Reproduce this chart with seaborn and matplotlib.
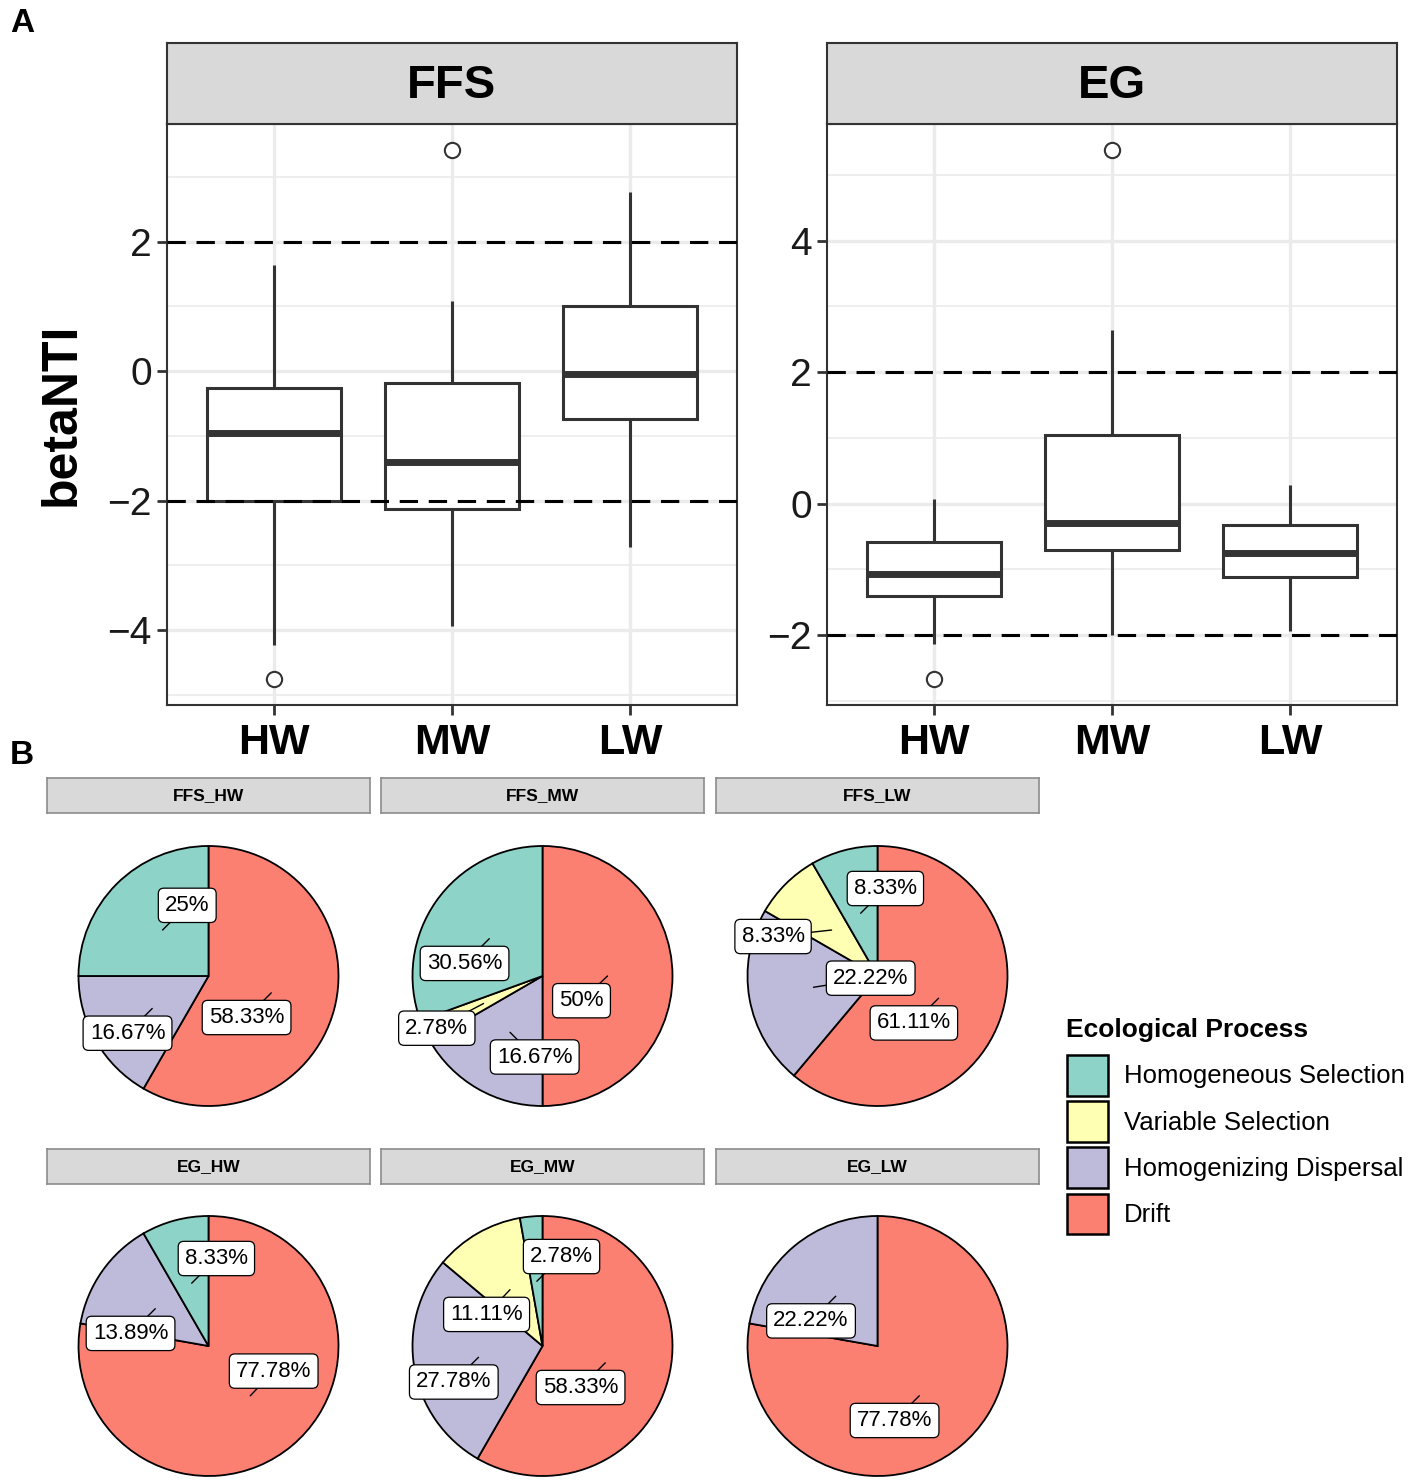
import numpy as np
import pandas as pd
import matplotlib
matplotlib.use("Agg")
import matplotlib.pyplot as plt
from matplotlib.patches import Patch
from matplotlib.ticker import MultipleLocator
import seaborn as sns

# ---- panel A: betaNTI values
# (outlier / whisker end, lower hinge, median, upper hinge, whisker end / outlier)
sites = ["HW", "MW", "LW"]
soils = ["FFS", "EG"]

ffs_hw = [-4.75, -4.23, -2.00, -2.00, -0.96, -0.26, -0.26, 1.64, 1.64]
ffs_mw = [-3.94, -3.94, -2.13, -2.13, -1.41, -0.18, -0.18, 1.09, 3.41]
ffs_lw = [-2.72, -2.72, -0.74, -0.74, -0.05, 1.00, 1.00, 2.76, 2.76]
eg_hw = [-2.66, -2.14, -1.40, -1.40, -1.07, -0.59, -0.59, 0.07, 0.07]
eg_mw = [-2.00, -2.00, -0.71, -0.71, -0.30, 1.05, 1.05, 2.64, 5.37]
eg_lw = [-1.94, -1.94, -1.11, -1.11, -0.75, -0.33, -0.33, 0.28, 0.28]

# ---- panel B: share of ecological processes (%)
processes = ["Homogeneous Selection", "Variable Selection",
             "Homogenizing Dispersal", "Drift"]
pie_groups = ["FFS_HW", "FFS_MW", "FFS_LW", "EG_HW", "EG_MW", "EG_LW"]
homogeneous_sel = [25.00, 30.56, 8.33, 8.33, 2.78, 0.00]
variable_sel = [0.00, 2.78, 8.33, 0.00, 11.11, 0.00]
homogenizing_disp = [16.67, 16.67, 22.22, 13.89, 27.78, 22.22]
drift = [58.33, 50.00, 61.11, 77.78, 58.33, 77.78]

rows = []
for soil, groups in zip(soils, [[ffs_hw, ffs_mw, ffs_lw], [eg_hw, eg_mw, eg_lw]]):
    for site, vals in zip(sites, groups):
        for v in vals:
            rows.append({"soil": soil, "site": site, "betaNTI": v})
df_box = pd.DataFrame(rows)

df_pie = pd.DataFrame({"group": pie_groups,
                       "Homogeneous Selection": homogeneous_sel,
                       "Variable Selection": variable_sel,
                       "Homogenizing Dispersal": homogenizing_disp,
                       "Drift": drift}).set_index("group")

# label nudges (repel-like offsets, in pie radius units)
label_nudge = {
    "FFS_HW": {"Drift": (-0.19, -0.19), "Homogenizing Dispersal": (-0.19, -0.19),
               "Homogeneous Selection": (0.19, 0.19)},
    "FFS_MW": {"Drift": (-0.2, -0.19), "Homogenizing Dispersal": (0.19, -0.19),
               "Variable Selection": (-0.36, -0.19), "Homogeneous Selection": (-0.19, -0.19)},
    "FFS_LW": {"Drift": (-0.19, -0.19), "Homogenizing Dispersal": (0.44, 0.07),
               "Variable Selection": (-0.45, -0.05), "Homogeneous Selection": (0.19, 0.19)},
    "EG_HW": {"Drift": (0.18, 0.19), "Homogenizing Dispersal": (-0.19, -0.19),
              "Homogeneous Selection": (0.19, 0.19)},
    "EG_MW": {"Drift": (-0.19, -0.19), "Homogenizing Dispersal": (-0.19, -0.19),
              "Variable Selection": (-0.18, -0.19), "Homogeneous Selection": (0.19, 0.19)},
    "EG_LW": {"Drift": (-0.19, -0.19), "Homogenizing Dispersal": (-0.19, -0.19)},
}

sns.set_theme(style="white")
plt.rcParams['font.family'] = ['Liberation Sans', 'DejaVu Sans']
plt.rcParams['text.color'] = 'black'

W, H = 1417, 1483
fig = plt.figure(figsize=(W / 100, H / 100), dpi=100)


def px_rect(x0, y0, x1, y1):
    return [x0 / W, 1 - y1 / H, (x1 - x0) / W, (y1 - y0) / H]


dark = "#333333"
palette = sns.color_palette("Set3", 4)
proc_colors = dict(zip(processes, palette))

# ---------------- panel A ----------------
panel_x = {"FFS": (167, 737), "EG": (827, 1397)}
for soil in soils:
    x0, x1 = panel_x[soil]
    ax = fig.add_axes(px_rect(x0, 124, x1, 705))
    sub = df_box[df_box["soil"] == soil]
    sns.boxplot(data=sub, x="site", y="betaNTI", order=sites, width=0.75,
                color="white", linecolor=dark, linewidth=2.2, fliersize=11,
                flierprops=dict(marker="o", markerfacecolor="white",
                                markeredgecolor=dark, markeredgewidth=1.5),
                medianprops=dict(linewidth=5, color=dark),
                showcaps=False, ax=ax)
    for y in (-2, 2):
        ax.axhline(y, color="black", lw=2.2, ls=(0, (6, 3.5)), zorder=6)
    lo, hi = sub["betaNTI"].min(), sub["betaNTI"].max()
    pad = 0.05 * (hi - lo)
    ax.set_ylim(lo - pad, hi + pad)
    ax.set_xlim(-0.6, 2.6)
    ax.yaxis.set_major_locator(MultipleLocator(2))
    ax.yaxis.set_minor_locator(MultipleLocator(1))
    ax.set_axisbelow(True)
    ax.grid(True, which="major", color="#EBEBEB", lw=2.4)
    ax.grid(True, which="minor", axis="y", color="#EBEBEB", lw=1.2)
    ax.set_facecolor("white")
    for s in ax.spines.values():
        s.set_visible(True)
        s.set_color(dark)
        s.set_linewidth(1.5)
    ax.tick_params(axis="both", which="major", length=7, width=2, color=dark,
                   bottom=True, left=True)
    ax.tick_params(axis="y", which="minor", length=0, left=False)
    ax.tick_params(axis="y", labelsize=28, labelcolor="#1a1a1a", pad=4)
    ax.tick_params(axis="x", labelsize=31, pad=6, labelcolor="black")
    for t in ax.get_xticklabels():
        t.set_fontweight("bold")
    ax.set_xlabel("")
    ax.set_ylabel("")
    # strip
    sax = fig.add_axes(px_rect(x0, 43, x1, 124))
    sax.set_facecolor("#D9D9D9")
    sax.set_xticks([])
    sax.set_yticks([])
    for s in sax.spines.values():
        s.set_visible(True)
        s.set_color(dark)
        s.set_linewidth(1.5)
    sax.text(0.5, 0.47, soil, ha="center", va="center", fontsize=34,
             fontweight="bold", transform=sax.transAxes)

fig.text(62 / W, 1 - 414 / H, "betaNTI", rotation=90, ha="center", va="center",
         fontsize=36, fontweight="bold")
fig.text(10 / W, 1 - 8 / H, "A", ha="left", va="top", fontsize=24, fontweight="bold")
fig.text(10 / W, 1 - 740 / H, "B", ha="left", va="top", fontsize=24, fontweight="bold")

# ---------------- panel B ----------------
strip_x = [(47, 370), (381, 704), (716, 1039)]
strip_y = [(778, 813), (1149, 1184)]
pie_cy = [976, 1346]
R = 130
half = 165
clockwise = ["Drift", "Homogenizing Dispersal", "Variable Selection",
             "Homogeneous Selection"]

for i, group in enumerate(pie_groups):
    r, c = divmod(i, 3)
    sx0, sx1 = strip_x[c]
    sy0, sy1 = strip_y[r]
    sax = fig.add_axes(px_rect(sx0, sy0, sx1, sy1))
    sax.set_facecolor("#D9D9D9")
    sax.set_xticks([])
    sax.set_yticks([])
    for s in sax.spines.values():
        s.set_visible(True)
        s.set_color("#8C8C8C")
        s.set_linewidth(1.2)
    sax.text(0.5, 0.5, group, ha="center", va="center", fontsize=12.5,
             fontweight="bold", transform=sax.transAxes)

    cx = (sx0 + sx1) / 2
    cy = pie_cy[r]
    ax = fig.add_axes(px_rect(cx - half, cy - half, cx + half, cy + half))
    row = df_pie.loc[group]
    names = [p for p in clockwise if row[p] > 0]
    vals = [row[p] for p in names]
    ax.pie(vals, colors=[proc_colors[p] for p in names], startangle=90,
           counterclock=False, radius=1,
           wedgeprops=dict(edgecolor="black", linewidth=1.3))
    lim = half / R
    ax.set_xlim(-lim, lim)
    ax.set_ylim(-lim, lim)
    ax.set_aspect("auto")
    ax.axis("off")

    cum = 0.0
    total = sum(vals)
    for p, v in zip(names, vals):
        mid = np.deg2rad((cum + v / 2) / total * 360)
        cum += v
        ax_, ay_ = 0.5 * np.sin(mid), 0.5 * np.cos(mid)
        dx, dy = label_nudge[group][p]
        lx, ly = ax_ + dx, ay_ + dy
        ax.plot([ax_, lx], [ay_, ly], color="black", lw=1.0, zorder=3)
        txt = f"{v:.2f}".rstrip("0").rstrip(".") + "%"
        ax.text(lx, ly, txt, ha="center", va="center", fontsize=16, zorder=5,
                bbox=dict(boxstyle="round,pad=0.3,rounding_size=0.25",
                          fc="white", ec="black", lw=0.9))

# legend
fig.text(1066 / W, 1 - 1030 / H, "Ecological Process", ha="left", va="center",
         fontsize=19, fontweight="bold")
handles = [Patch(facecolor=proc_colors[p], edgecolor="black", linewidth=1.8)
           for p in processes]
leg = fig.legend(handles, processes, loc="upper left",
                 bbox_to_anchor=(1067 / W, 1 - 1055 / H), frameon=False,
                 fontsize=18.5, handlelength=1.6, handleheight=2.05,
                 labelspacing=0.22, handletextpad=0.6, borderpad=0,
                 borderaxespad=0, labelcolor="black")

fig.savefig("out.png", dpi=100)
